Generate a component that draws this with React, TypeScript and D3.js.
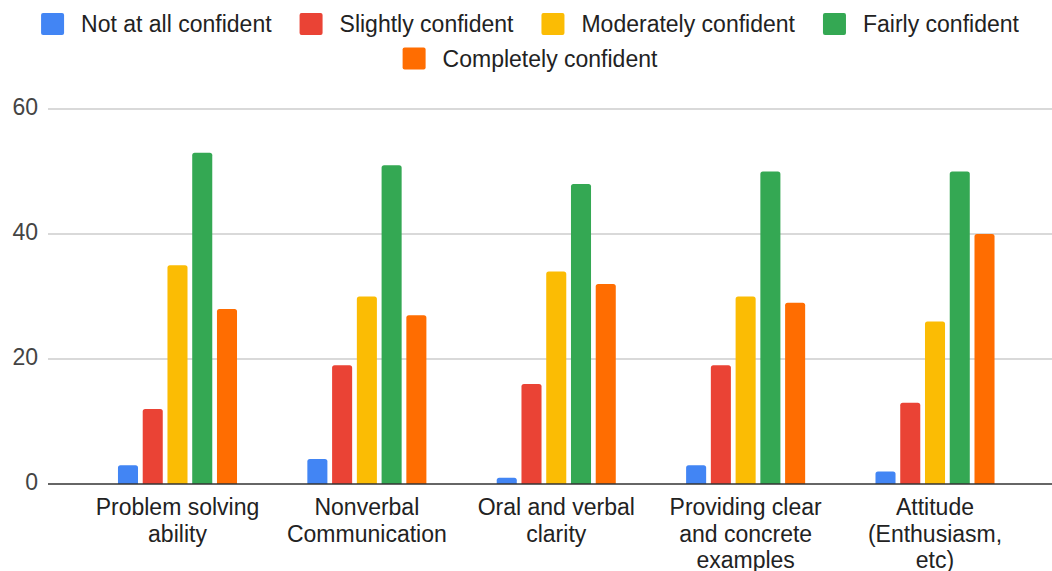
import React from "react";
import * as d3 from "d3";

const categories = [
  "Problem solving ability",
  "Nonverbal Communication",
  "Oral and verbal clarity",
  "Providing clear and concrete examples",
  "Attitude (Enthusiasm, etc)",
];
const seriesNames = [
  "Not at all confident",
  "Slightly confident",
  "Moderately confident",
  "Fairly confident",
  "Completely confident",
];
const notAtAll = [3, 4, 1, 3, 2];
const slightly = [12, 19, 16, 19, 13];
const moderately = [35, 30, 34, 30, 26];
const fairly = [53, 51, 48, 50, 50];
const completely = [28, 27, 32, 29, 40];
const seriesValues = [notAtAll, slightly, moderately, fairly, completely];
const colors = ["#4285F4", "#EA4335", "#FBBC04", "#34A853", "#FF6D01"];
const yTicks = [0, 20, 40, 60];

const W = 1052;
const H = 571;
const FONT = "'Liberation Sans', Arial, sans-serif";
const FS = 23;

let ctx: CanvasRenderingContext2D | null = null;
function measure(t: string): number {
  if (!ctx) {
    const c = document.createElement("canvas");
    ctx = c.getContext("2d");
  }
  if (!ctx) return t.length * FS * 0.5;
  ctx.font = `${FS}px ${FONT}`;
  return ctx.measureText(t).width;
}

function wrap(text: string, maxW: number): string[] {
  const words = text.split(" ");
  const lines: string[] = [];
  let cur = "";
  for (const w of words) {
    const test = cur ? cur + " " + w : w;
    if (cur && measure(test) > maxW) {
      lines.push(cur);
      cur = w;
    } else cur = test;
  }
  if (cur) lines.push(cur);
  return lines;
}

function topRoundedBar(x: number, y: number, w: number, h: number, r: number) {
  const rr = Math.min(r, h / 2, w / 2);
  const p = d3.path();
  p.moveTo(x, y + h);
  p.lineTo(x, y + rr);
  p.quadraticCurveTo(x, y, x + rr, y);
  p.lineTo(x + w - rr, y);
  p.quadraticCurveTo(x + w, y, x + w, y + rr);
  p.lineTo(x + w, y + h);
  p.closePath();
  return p.toString();
}

export default function App() {
  const y = d3.scaleLinear().domain([0, 60]).range([484, 109]);
  const x0 = d3.scaleBand<string>().domain(categories).range([82.8, 1029.7]);
  const groupW = 123.75;
  const x1 = d3
    .scaleBand<string>()
    .domain(seriesNames)
    .range([-groupW / 2, groupW / 2])
    .paddingInner(0.19)
    .paddingOuter(0.095);

  // legend layout
  const swW = 23;
  const swGap = 17;
  const itemGap = 28;
  const itemWidths = seriesNames.map((s) => swW + swGap + measure(s));
  const rows: number[][] = [[0, 1, 2, 3], [4]];
  const rowY = [24, 58.5];
  const legendCenter = 530;

  return (
    <svg
      width={W}
      height={H}
      style={{ position: "absolute", left: 0, top: 0, background: "#fff" }}
      fontFamily={FONT}
    >
      <rect x={0} y={0} width={W} height={H} fill="#fff" />
      {/* legend */}
      {rows.map((row, ri) => {
        const total =
          row.reduce((a, i) => a + itemWidths[i], 0) + itemGap * (row.length - 1);
        let cx = legendCenter - total / 2;
        return row.map((i) => {
          const gx = cx;
          cx += itemWidths[i] + itemGap;
          return (
            <g key={seriesNames[i]}>
              <rect
                x={gx}
                y={rowY[ri] - 11}
                width={swW}
                height={22}
                rx={2}
                fill={colors[i]}
              />
              <text
                x={gx + swW + swGap}
                y={rowY[ri] + 8}
                fontSize={FS}
                fill="#222"
              >
                {seriesNames[i]}
              </text>
            </g>
          );
        });
      })}
      {/* gridlines */}
      {yTicks.map((t) => (
        <g key={t}>
          {t !== 0 && (
            <line x1={48} x2={W} y1={y(t)} y2={y(t)} stroke="#ccc" strokeWidth={1.3} />
          )}
          <text
            x={38}
            y={y(t) + 6}
            textAnchor="end"
            fontSize={FS}
            fill="#444"
          >
            {t}
          </text>
        </g>
      ))}
      {/* bars */}
      {categories.map((c, ci) => {
        const cx = (x0(c) as number) + x0.bandwidth() / 2;
        return (
          <g key={c}>
            {seriesNames.map((s, si) => {
              const v = seriesValues[si][ci];
              const bx = cx + (x1(s) as number);
              return (
                <path
                  key={s}
                  d={topRoundedBar(bx, y(v), x1.bandwidth(), y(0) - y(v), 2.5)}
                  fill={colors[si]}
                />
              );
            })}
          </g>
        );
      })}
      {/* baseline */}
      <line x1={48} x2={W} y1={y(0)} y2={y(0)} stroke="#333" strokeWidth={1.6} />
      {/* category labels */}
      {categories.map((c) => {
        const cx = (x0(c) as number) + x0.bandwidth() / 2;
        const lines = wrap(c, 172);
        return (
          <text key={c} textAnchor="middle" fontSize={FS} fill="#222">
            {lines.map((l, li) => (
              <tspan key={li} x={cx} y={515 + li * 26.5}>
                {l}
              </tspan>
            ))}
          </text>
        );
      })}
    </svg>
  );
}
